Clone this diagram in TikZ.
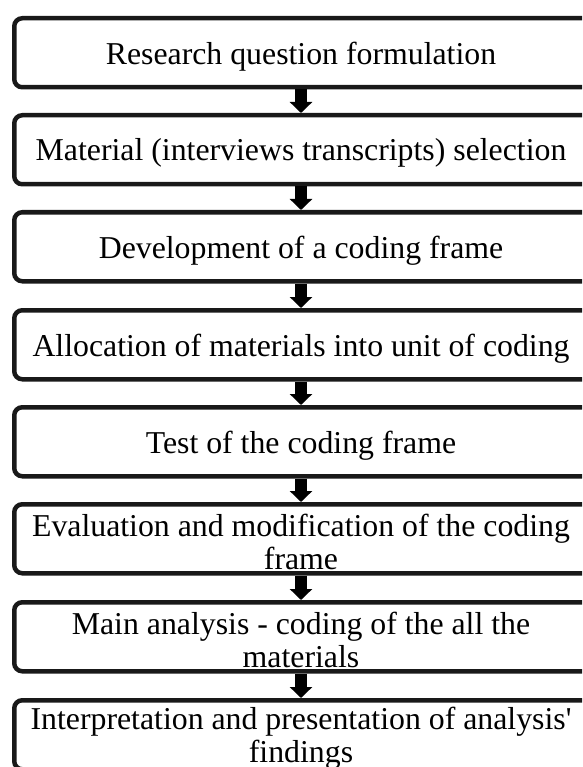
\documentclass[tikz,border=0pt]{standalone}
\usepackage{fontspec}
\setmainfont{Liberation Serif}
\usetikzlibrary{arrows.meta}
\begin{document}
\begin{tikzpicture}[x=1pt,y=-1pt,
  stage/.style={draw=black!90, line width=4.5pt, rounded corners=8pt,
    minimum width=604pt, minimum height=69pt, inner sep=0pt},
  stagetext/.style={align=center, inner sep=0pt, xshift=-15.25pt, yshift=-3.5pt,
    font=\fontsize{31.8}{33}\selectfont},
  flow/.style={draw=black, line width=12pt,
    -{Triangle[width=22pt,length=11pt]}}]
\useasboundingbox (0,0) rectangle (582,767);
\clip (0,0) rectangle (582,767);
% the eight stages, top to bottom; boxes run on past the right edge
\node[stage, label={[stagetext]center:Research question formulation}] (s1) at (316.25,52.75) {};
\node[stage, label={[stagetext]center:Material (interviews transcripts) selection}] (s2) at (316.25,149.75) {};
\node[stage, label={[stagetext]center:Development of a coding frame}] (s3) at (316.25,246.75) {};
\node[stage, label={[stagetext]center:Allocation of materials into unit of coding}] (s4) at (316.25,344.75) {};
\node[stage, label={[stagetext]center:Test of the coding frame}] (s5) at (316.25,441.75) {};
\node[stage, label={[stagetext]center:Evaluation and modification of the coding\\frame}] (s6) at (316.25,538.75) {};
\node[stage, label={[stagetext]center:Main analysis - coding of the all the\\materials}] (s7) at (316.25,636.75) {};
\node[stage, label={[stagetext]center:Interpretation and presentation of analysis\textquotesingle\\findings}] (s8) at (316.25,734.75) {};
% block arrows between consecutive stages, under the text column
\foreach \a/\b in {s1/s2,s2/s3,s3/s4,s4/s5,s5/s6,s6/s7,s7/s8}
  \draw[flow] ([xshift=-15.25pt]\a.south) -- ([xshift=-15.25pt]\b.north);
\end{tikzpicture}
\end{document}
